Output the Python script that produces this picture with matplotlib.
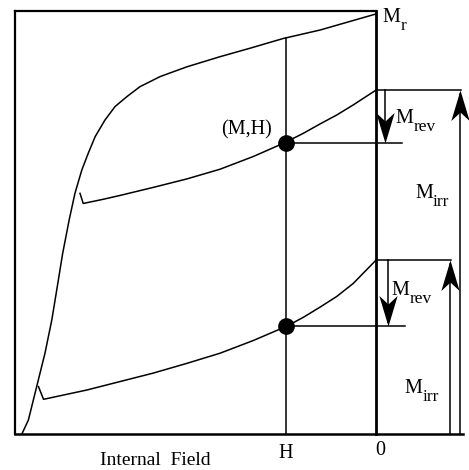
import matplotlib
matplotlib.use("Agg")
import matplotlib.pyplot as plt
from matplotlib.path import Path

plt.rcParams['font.family'] = ['Liberation Serif', 'DejaVu Serif']

# major (remanence) curve, field H (left frame = -1, right = 0) vs M (0..1)
major_h = [-0.981, -0.963, -0.940, -0.917, -0.898, -0.883, -0.868, -0.850,
           -0.834, -0.815, -0.797, -0.778, -0.751, -0.723, -0.691, -0.654,
           -0.598, -0.524, -0.432, -0.349, -0.257, -0.155, 0.0]
major_m = [0.0, 0.033, 0.112, 0.191, 0.270, 0.348, 0.427, 0.506,
           0.569, 0.624, 0.664, 0.703, 0.742, 0.774, 0.797, 0.821,
           0.845, 0.868, 0.892, 0.912, 0.935, 0.955, 0.993]

# upper recoil curve (starts with the small hook)
rec1_h = [-0.820, -0.811, -0.755, -0.709, -0.617, -0.524, -0.432, -0.340,
          -0.252, -0.201, -0.155, -0.109, -0.063, 0.0]
rec1_m = [0.569, 0.545, 0.555, 0.564, 0.583, 0.603, 0.626, 0.656,
          0.689, 0.711, 0.733, 0.754, 0.778, 0.813]

# lower recoil curve
rec2_h = [-0.935, -0.921, -0.801, -0.709, -0.617, -0.524, -0.432, -0.340,
          -0.247, -0.201, -0.155, -0.109, -0.063, 0.0]
rec2_m = [0.112, 0.082, 0.104, 0.124, 0.144, 0.167, 0.191, 0.221,
          0.255, 0.276, 0.300, 0.325, 0.356, 0.411]

H_point = -0.25
M_points = [0.689, 0.255]       # (M,H) on each recoil curve
M_ends = [0.813, 0.411]         # recoil curve values at H = 0
H_top = 0.935                   # major curve at H

rev_x = [0.025, 0.033]          # M_rev arrow positions
rev_line_end = [0.072, 0.080]
irr_x = [0.233, 0.205]          # M_irr arrow positions

fig = plt.figure(figsize=(4.69, 4.70), dpi=100)
ax = fig.add_axes([0, 0, 1, 1])
ax.set_xlim(-1.0416, 0.2576)
ax.set_ylim(-0.0851, 1.026)
ax.axis('off')

k = 'black'
# frame
ax.plot([-1, -1], [0, 1.0], color=k, lw=1.6)
ax.plot([-1, 0], [1.0, 1.0], color=k, lw=1.6)
ax.plot([0, 0], [0, 1.0], color=k, lw=2.0)
ax.plot([-1, 0.241], [0, 0], color=k, lw=1.8)

# curves
ax.plot(major_h, major_m, color=k, lw=1.1)
ax.plot(rec1_h, rec1_m, color=k, lw=1.1)
ax.plot(rec2_h, rec2_m, color=k, lw=1.1)

# vertical line at H
ax.plot([H_point, H_point], [0, H_top], color=k, lw=1.1)
ax.plot([H_point, H_point], M_points, 'o', color=k, ms=11)

# barbed arrow heads, tip at the marker position
codes = [Path.MOVETO, Path.LINETO, Path.LINETO, Path.LINETO, Path.CLOSEPOLY]
head_up = Path([(0, 0), (-0.3, -1), (0, -0.72), (0.3, -1), (0, 0)], codes)
head_down = Path([(0, 0), (-0.3, 1), (0, 0.72), (0.3, 1), (0, 0)], codes)

for i in range(2):
    # horizontal from point to the right
    ax.plot([H_point, rev_line_end[i]], [M_points[i]] * 2, color=k, lw=1.1)
    # horizontal at top of M_irr
    ax.plot([0, irr_x[i] + 0.003], [M_ends[i]] * 2, color=k, lw=1.1)
    # M_rev arrow (down)
    ax.plot([rev_x[i], rev_x[i]], [M_ends[i], M_points[i] + 0.01], color=k, lw=1.1)
    ax.plot(rev_x[i], M_points[i], marker=head_down, ms=44, color=k, mew=0)
    # M_irr arrow (up)
    ax.plot([irr_x[i], irr_x[i]], [0, M_ends[i] - 0.01], color=k, lw=1.1)
    ax.plot(irr_x[i], M_ends[i], marker=head_up, ms=44, color=k, mew=0)

fs = 14.5


def label(x, y, sub):
    ax.text(x, y, 'M', fontsize=fs, ha='left', va='baseline')
    ax.annotate(sub, xy=(x, y), xytext=(12.5, -6), textcoords='offset points',
                fontsize=12.5, ha='left', va='baseline')


label(0.019, 0.974, 'r')
label(0.055, 0.735, 'rev')
label(0.108, 0.558, 'irr')
label(0.044, 0.329, 'rev')
label(0.080, 0.097, 'irr')
ax.text(-0.288, 0.707, '(M,H)', fontsize=fs, ha='right', va='baseline')
ax.text(H_point, -0.057, 'H', fontsize=fs, ha='center', va='baseline')
ax.text(0.011, -0.050, '0', fontsize=fs, ha='center', va='baseline')
ax.text(-0.765, -0.073, 'Internal  Field', fontsize=14, ha='left', va='baseline')

fig.savefig('out.png', dpi=100)
